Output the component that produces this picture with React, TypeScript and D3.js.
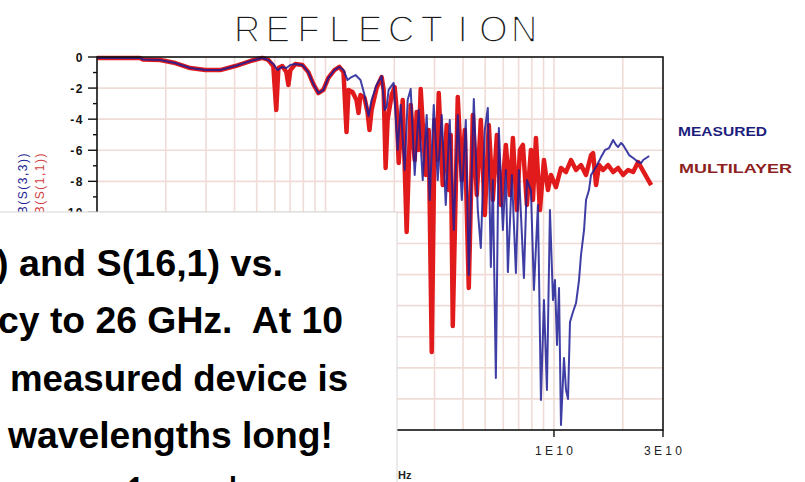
import React from "react";
import * as d3 from "d3";

// Reflection magnitude vs frequency: multilayer model (GHz, dB)
const multilayerGHz = [
  0.100, 0.154, 0.159, 0.189, 0.220, 0.256, 0.298, 0.346, 0.403, 0.469,
  0.529, 0.562, 0.591, 0.609, 0.622, 0.647, 0.674, 0.688, 0.702, 0.738,
  0.792, 0.841, 0.885, 0.931, 0.979, 1.029, 1.094, 1.150, 1.199, 1.236,
  1.261, 1.313, 1.367, 1.395, 1.423, 1.482, 1.527, 1.558, 1.591, 1.674,
  1.761, 1.797, 1.833, 1.870, 1.948, 2.008, 2.049, 2.091, 2.177, 2.266,
  2.360, 2.457, 2.507, 2.558, 2.610, 2.745, 2.829, 2.917, 3.007, 3.068,
  3.131, 3.260, 3.394, 3.463, 3.534, 3.606, 3.792, 3.949, 4.070, 4.237,
  4.414, 4.594, 4.784, 4.981, 5.185, 5.401, 5.623, 5.855, 6.158, 6.411,
  6.610, 6.881, 7.092, 7.312, 7.611, 7.927, 8.089, 8.337, 8.679, 9.039,
  9.410, 9.701, 10.20, 10.73, 11.29, 11.87, 12.49, 13.13, 13.81, 14.53,
  14.83, 15.28, 15.75, 16.40, 17.25, 18.15, 19.08, 20.07, 21.11, 22.21,
  23.35, 24.82, 26.63,
];
const multilayerDb = [
  -0.06, -0.06, -0.16, -0.19, -0.39, -0.71, -0.84, -0.84, -0.58, -0.26,
  -0.06, -0.19, -0.58, -3.41, -0.71, -0.58, -0.97, -1.80, -0.84, -0.45,
  -0.51, -0.97, -1.74, -2.32, -2.12, -1.35, -0.84, -0.64, -0.97, -4.83,
  -2.12, -2.25, -2.77, -3.60, -2.45, -2.64, -3.54, -4.70, -3.41, -1.99,
  -1.29, -2.12, -7.14, -4.05, -2.45, -1.93, -3.41, -6.82, -2.77, -11.26,
  -3.09, -6.63, -3.54, -5.98, -2.06, -7.59, -4.70, -18.98, -4.05, -6.63,
  -2.32, -8.24, -4.38, -8.56, -5.02, -17.31, -2.57, -7.92, -4.70, -14.86,
  -3.73, -8.88, -4.05, -10.17, -4.38, -9.20, -5.02, -9.52, -5.66, -8.88,
  -5.21, -9.85, -5.98, -5.66, -9.52, -5.98, -9.20, -5.21, -9.85, -6.63,
  -8.56, -7.59, -8.37, -7.14, -7.40, -6.63, -7.27, -6.95, -7.59, -6.31,
  -6.18, -8.24, -6.95, -7.27, -6.95, -7.40, -7.14, -7.59, -7.27, -7.40,
  -6.76, -7.46, -8.24,
];

// Reflection magnitude vs frequency: measured device (GHz, dB)
const measuredGHz = [
  0.100, 0.154, 0.159, 0.189, 0.220, 0.256, 0.298, 0.346, 0.403, 0.469,
  0.529, 0.562, 0.591, 0.616, 0.647, 0.674, 0.702, 0.738, 0.792, 0.841,
  0.885, 0.931, 0.979, 1.029, 1.094, 1.150, 1.199, 1.249, 1.300, 1.354,
  1.423, 1.482, 1.543, 1.591, 1.674, 1.761, 1.815, 1.852, 1.889, 1.988,
  2.070, 2.133, 2.221, 2.289, 2.360, 2.457, 2.558, 2.664, 2.773, 2.858,
  2.977, 3.099, 3.227, 3.360, 3.498, 3.643, 3.792, 3.949, 4.112, 4.237,
  4.458, 4.641, 4.784, 4.981, 5.134, 5.293, 5.401, 5.567, 5.737, 5.975,
  6.158, 6.283, 6.543, 6.813, 7.020, 7.386, 7.611, 7.927, 8.171, 8.506,
  8.769, 9.039, 9.315, 9.601, 9.900, 10.10, 10.31, 10.52, 10.73, 11.06,
  11.29, 11.52, 11.75, 12.11, 12.49, 12.87, 13.13, 13.54, 13.81, 14.23,
  14.53, 14.98, 15.44, 16.07, 16.73, 17.42, 18.15, 18.70, 19.08, 19.67,
  20.07, 20.69, 21.32, 22.21, 23.35, 24.08, 24.57, 25.33, 26.10,
];
const measuredDb = [
  -0.06, -0.06, -0.16, -0.19, -0.39, -0.71, -0.84, -0.84, -0.58, -0.26,
  -0.06, -0.19, -0.45, -0.84, -0.64, -0.71, -0.51, -0.45, -0.51, -0.97,
  -1.74, -2.32, -2.12, -1.35, -0.84, -0.64, -0.84, -1.48, -1.29, -1.16,
  -1.48, -2.45, -3.80, -2.77, -1.80, -1.22, -3.41, -3.22, -2.12, -1.67,
  -5.98, -3.09, -7.27, -2.77, -2.06, -7.59, -3.41, -7.92, -3.73, -9.20,
  -3.09, -7.92, -3.73, -9.52, -4.05, -11.13, -3.73, -9.20, -4.05, -14.03,
  -2.70, -9.85, -12.29, -4.70, -3.28, -13.51, -7.92, -20.66, -4.57, -11.13,
  -7.27, -13.84, -7.59, -13.90, -7.27, -14.22, -7.92, -8.56, -14.99, -9.52,
  -22.07, -15.64, -21.43, -9.85, -15.64, -14.35, -18.53, -14.86, -23.68, -19.37,
  -21.43, -22.01, -17.05, -16.41, -15.83, -14.35, -12.74, -11.13, -9.20, -8.56,
  -7.59, -7.27, -6.95, -6.44, -5.98, -5.86, -5.34, -5.66, -5.79, -5.53,
  -5.66, -5.98, -6.31, -6.50, -6.76, -6.82, -6.63, -6.50, -6.37,
];

const yTickValues = [0, -2, -4, -6, -8, -10, -12, -14, -16, -18, -20, -22, -24];
const yMinorValues = [-1, -3, -5, -7, -9, -11, -13, -15, -17, -19, -21, -23];
const yLabelValues = [0, -2, -4, -6, -8, -10];
const xLabelValues = [1e10, 3e10];
const xLabelTexts = ["1E10", "3E10"];
const titleText = "REFLECTION";
const seriesNames = ["MEASURED", "MULTILAYER"];
const traceLabels = ["dB(S(3,3))", "dB(S(1,1))"];
const noteLines = [
  ") and S(16,1) vs.",
  "cy to 26 GHz.  At 10",
  "measured device is",
  "wavelengths long!",
  "was 1 wave long.",
];

const RED = "#e11b1b";
const BLUE = "#1c1c95";

export default function App() {
  const width = 805;
  const height = 482;
  const plot = { left: 97, top: 57, right: 663, bottom: 430 };

  const x = d3.scaleLog().domain([1e8, 3e10]).range([plot.left, plot.right]);
  const y = d3.scaleLinear().domain([0, -24]).range([plot.top, plot.bottom]);

  const lineGen = d3
    .line<[number, number]>()
    .x((d) => x(d[0] * 1e9))
    .y((d) => y(d[1]));

  const multilayer = multilayerGHz.map((f, i) => [f, multilayerDb[i]] as [number, number]);
  const measured = measuredGHz.map((f, i) => [f, measuredDb[i]] as [number, number]);

  const gridX = x.ticks().filter((v) => v > 1e8 * 1.001 && v < 3e10 * 0.999);
  const gridY = yTickValues.filter((v) => v < 0 && v > -24);

  const sans = "'Liberation Sans', Arial, sans-serif";

  // note text layout: [x start, baseline, width]
  const noteLayout = [
    [-4, 276, 287],
    [-2, 333, 345],
    [10, 391, 338],
    [8, 448, 325],
    [66, 503, 231],
  ];

  return (
    <div style={{ position: "fixed", left: 0, top: 0, width, height, background: "#fff" }}>
      <svg width={width} height={height} style={{ display: "block" }}>
        <rect x={0} y={0} width={width} height={height} fill="#fff" />

        {/* grid */}
        <g stroke="#f0dcd7" strokeWidth={1.6}>
          {gridX.map((v) => (
            <line key={"gx" + v} x1={x(v)} x2={x(v)} y1={plot.top} y2={plot.bottom} />
          ))}
          {gridY.map((v) => (
            <line key={"gy" + v} x1={plot.left} x2={plot.right} y1={y(v)} y2={y(v)} />
          ))}
        </g>

        {/* traces */}
        <path d={lineGen(multilayer) || ""} fill="none" stroke={RED} strokeWidth={4.5} strokeLinejoin="round" />
        <path
          d={lineGen(measured) || ""}
          fill="none"
          stroke={BLUE}
          strokeWidth={2}
          strokeOpacity={0.85}
          strokeLinejoin="round"
        />

        {/* frame */}
        <rect
          x={plot.left}
          y={plot.top}
          width={plot.right - plot.left}
          height={plot.bottom - plot.top}
          fill="none"
          stroke="#111"
          strokeWidth={1.6}
        />

        {/* y axis ticks and labels */}
        <g stroke="#111" strokeWidth={1.4}>
          {yTickValues.map((v) => (
            <line key={"yt" + v} x1={plot.left - 9} x2={plot.left} y1={y(v)} y2={y(v)} />
          ))}
          {yMinorValues.map((v) => (
            <line key={"ym" + v} x1={plot.left - 4} x2={plot.left} y1={y(v)} y2={y(v)} />
          ))}
        </g>
        <g fontFamily={sans} fontWeight="bold" fontSize={12} fill="#111" textAnchor="end">
          {yLabelValues.map((v) => (
            <text key={"yl" + v} x={84} y={y(v) + 4.5} letterSpacing={1.5}>
              {String(v)}
            </text>
          ))}
        </g>

        {/* x axis ticks and labels */}
        {xLabelValues.map((v, i) => (
          <g key={"xl" + v}>
            <line x1={x(v)} x2={x(v)} y1={plot.bottom} y2={plot.bottom + 7} stroke="#111" strokeWidth={1.4} />
            <text
              x={x(v) - 19}
              y={455}
              fontFamily={sans}
              fontSize={12}
              fill="#222"
              textLength={38}
              lengthAdjust="spacing"
            >
              {xLabelTexts[i]}
            </text>
          </g>
        ))}
        <text x={398} y={479} fontFamily={sans} fontWeight="bold" fontSize={11} fill="#222">
          Hz
        </text>

        {/* rotated trace names */}
        <text
          transform="translate(27,152) rotate(-90)"
          textAnchor="end"
          fontFamily={sans}
          fontSize={12}
          letterSpacing={1.5}
          fill={BLUE}
        >
          {traceLabels[0]}
        </text>
        <text
          transform="translate(44,152) rotate(-90)"
          textAnchor="end"
          fontFamily={sans}
          fontSize={12}
          letterSpacing={1.5}
          fill="#d04040"
        >
          {traceLabels[1]}
        </text>

        {/* legend */}
        <text x={678} y={136} fontFamily={sans} fontWeight="bold" fontSize={13} fill="#1d1d7d" textLength={89} lengthAdjust="spacingAndGlyphs">
          {seriesNames[0]}
        </text>
        <text x={679} y={173} fontFamily={sans} fontWeight="bold" fontSize={13} fill="#8e1f1f" textLength={113} lengthAdjust="spacingAndGlyphs">
          {seriesNames[1]}
        </text>

        {/* title */}
        {titleText.split("").map((ch, i) => (
          <text
            key={"t" + i}
            x={247 + i * 30.8}
            y={42}
            textAnchor="middle"
            fontFamily={sans}
            fontSize={37}
            fill="#1a1a1a"
            stroke="#fff"
            strokeWidth={1.7}
          >
            {ch}
          </text>
        ))}

        {/* note box */}
        <rect x={-10} y={212} width={407} height={290} fill="#fff" stroke="#d6d6d6" strokeWidth={1} />
        <g fontFamily={sans} fontWeight="bold" fontSize={37} fill="#000">
          {noteLines.map((t, i) => (
            <text
              key={"n" + i}
              x={noteLayout[i][0]}
              y={noteLayout[i][1]}
              textLength={noteLayout[i][2]}
              lengthAdjust="spacingAndGlyphs"
              style={{ whiteSpace: "pre" }}
            >
              {t}
            </text>
          ))}
        </g>
      </svg>
    </div>
  );
}
